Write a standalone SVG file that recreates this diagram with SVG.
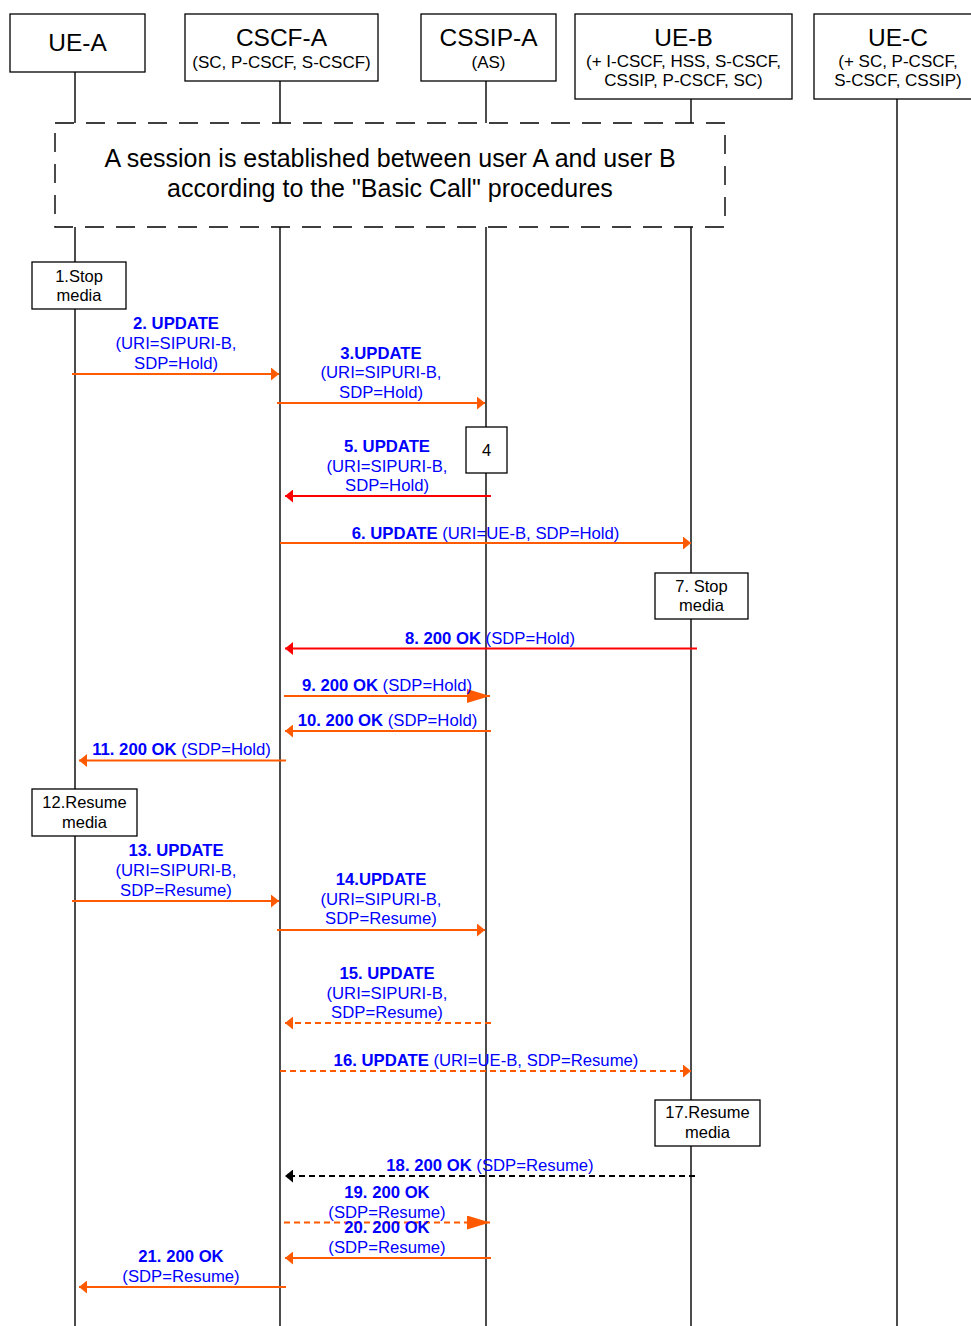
<svg xmlns="http://www.w3.org/2000/svg" width="971" height="1326" viewBox="0 0 971 1326">
<style>
.hdr{font-family:"Liberation Sans",Arial,sans-serif;font-size:24.5px;fill:#000;text-anchor:middle}
.ses{font-family:"Liberation Sans",Arial,sans-serif;font-size:25px;fill:#000;text-anchor:middle}
.sub{font-family:"Liberation Sans",Arial,sans-serif;font-size:17px;fill:#000;text-anchor:middle}
.box{fill:#fff;stroke:#000;stroke-width:1.3}
.life{stroke:#000;stroke-width:1.4;fill:none}
.lbl{font-family:"Liberation Sans",Arial,sans-serif;font-size:16.7px;fill:#0000FF;text-anchor:middle}
.b{font-weight:bold}
.note{font-family:"Liberation Sans",Arial,sans-serif;font-size:16.5px;fill:#000;text-anchor:middle}
.or{stroke:#FF5A00;stroke-width:2;fill:none}
.rd{stroke:#FF0000;stroke-width:2;fill:none}
.bk{stroke:#000;stroke-width:2;fill:none}
.dash{stroke-dasharray:6,4}
</style>
<defs>
<marker id="ao" viewBox="0 0 8 13" refX="8" refY="6.5" markerWidth="8" markerHeight="13" markerUnits="userSpaceOnUse" orient="auto"><polygon points="0,0 8,6.5 0,13" fill="#FF5A00"/></marker>
<marker id="ar" viewBox="0 0 8 13" refX="8" refY="6.5" markerWidth="8" markerHeight="13" markerUnits="userSpaceOnUse" orient="auto"><polygon points="0,0 8,6.5 0,13" fill="#FF0000"/></marker>
<marker id="ak" viewBox="0 0 8 13" refX="8" refY="6.5" markerWidth="8" markerHeight="13" markerUnits="userSpaceOnUse" orient="auto"><polygon points="0,0 8,6.5 0,13" fill="#000"/></marker>
<marker id="aob" viewBox="0 0 23 14" refX="23" refY="7" markerWidth="23" markerHeight="14" markerUnits="userSpaceOnUse" orient="auto"><polygon points="0,0 23,7 0,14" fill="#FF5A00"/></marker>
</defs>
<rect width="971" height="1326" fill="#fff"/>

<g id="lifelines">
<line class="life" x1="75" y1="72" x2="75" y2="1326"/>
<line class="life" x1="280" y1="81" x2="280" y2="1326"/>
<line class="life" x1="486" y1="81" x2="486" y2="1326"/>
<line class="life" x1="691" y1="99" x2="691" y2="1326"/>
<line class="life" x1="897" y1="99" x2="897" y2="1326"/>
</g>

<g id="ue-a"><rect class="box" x="10" y="14" width="135" height="58"/><text class="hdr" x="77.5" y="51">UE-A</text></g>
<g id="cscf-a"><rect class="box" x="185" y="14" width="193" height="67"/><text class="hdr" x="281.5" y="46">CSCF-A</text><text class="sub" x="281.5" y="68">(SC, P-CSCF, S-CSCF)</text></g>
<g id="cssip-a"><rect class="box" x="421" y="14" width="135" height="67"/><text class="hdr" x="488.5" y="46">CSSIP-A</text><text class="sub" x="488.5" y="68">(AS)</text></g>
<g id="ue-b"><rect class="box" x="575" y="14" width="217" height="85"/><text class="hdr" x="683.5" y="46">UE-B</text><text class="sub" x="683.5" y="67">(+ I-CSCF, HSS, S-CSCF,</text><text class="sub" x="683.5" y="86">CSSIP, P-CSCF, SC)</text></g>
<g id="ue-c"><rect class="box" x="814" y="14" width="165" height="85"/><text class="hdr" x="898" y="46">UE-C</text><text class="sub" x="898" y="67">(+ SC, P-CSCF,</text><text class="sub" x="898" y="86">S-CSCF, CSSIP)</text></g>

<g id="session">
<rect x="55" y="123" width="670" height="104" fill="#fff" stroke="#000" stroke-width="1.4" stroke-dasharray="19,12"/>
<text class="ses" x="390" y="167">A session is established between user A and user B</text>
<text class="ses" x="390" y="197">according to the "Basic Call" procedures</text>
</g>

<g id="n1"><rect class="box" x="32" y="262" width="94" height="47"/><text class="note" x="79" y="282">1.Stop</text><text class="note" x="79" y="301">media</text></g>
<g id="n4"><rect class="box" x="466" y="427" width="41" height="46"/><text class="note" x="486.5" y="456">4</text></g>
<g id="n7"><rect class="box" x="655" y="573" width="93" height="46"/><text class="note" x="701.5" y="592">7. Stop</text><text class="note" x="701.5" y="611">media</text></g>
<g id="n12"><rect class="box" x="32" y="789" width="105" height="47"/><text class="note" x="84.5" y="808">12.Resume</text><text class="note" x="84.5" y="828">media</text></g>
<g id="n17"><rect class="box" x="655" y="1100" width="105" height="46"/><text class="note" x="707.5" y="1118">17.Resume</text><text class="note" x="707.5" y="1138">media</text></g>

<g id="connectors">
<line class="or" x1="72" y1="374" x2="279" y2="374" marker-end="url(#ao)"/>
<line class="or" x1="277" y1="403" x2="485" y2="403" marker-end="url(#ao)"/>
<line class="rd" x1="491" y1="496" x2="285" y2="496" marker-end="url(#ar)"/>
<line class="or" x1="280" y1="543" x2="691" y2="543" marker-end="url(#ao)"/>
<line class="rd" x1="697" y1="648.5" x2="285" y2="648.5" marker-end="url(#ar)"/>
<line class="or" x1="284" y1="696" x2="490" y2="696" marker-end="url(#aob)"/>
<line class="or" x1="491" y1="731" x2="285" y2="731" marker-end="url(#ao)"/>
<line class="or" x1="286" y1="760.5" x2="79" y2="760.5" marker-end="url(#ao)"/>
<line class="or" x1="72" y1="901" x2="279" y2="901" marker-end="url(#ao)"/>
<line class="or" x1="277" y1="930" x2="485" y2="930" marker-end="url(#ao)"/>
<line class="or dash" x1="491" y1="1023" x2="285" y2="1023" marker-end="url(#ao)"/>
<line class="or dash" x1="280" y1="1071" x2="691" y2="1071" marker-end="url(#ao)"/>
<line class="bk dash" x1="695" y1="1176" x2="285" y2="1176" marker-end="url(#ak)"/>
<line class="or dash" x1="284" y1="1222.5" x2="490" y2="1222.5" marker-end="url(#aob)"/>
<line class="or" x1="491" y1="1258" x2="285" y2="1258" marker-end="url(#ao)"/>
<line class="or" x1="286" y1="1287" x2="79" y2="1287" marker-end="url(#ao)"/>
</g>

<g id="labels">
<text class="lbl b" x="176" y="329">2. UPDATE</text>
<text class="lbl" x="176" y="349">(URI=SIPURI-B,</text>
<text class="lbl" x="176" y="369">SDP=Hold)</text>

<text class="lbl b" x="381" y="359">3.UPDATE</text>
<text class="lbl" x="381" y="378">(URI=SIPURI-B,</text>
<text class="lbl" x="381" y="398">SDP=Hold)</text>

<text class="lbl b" x="387" y="452">5. UPDATE</text>
<text class="lbl" x="387" y="472">(URI=SIPURI-B,</text>
<text class="lbl" x="387" y="491">SDP=Hold)</text>

<text class="lbl" x="485.5" y="539"><tspan class="b">6. UPDATE</tspan> (URI=UE-B, SDP=Hold)</text>
<text class="lbl" x="490" y="644"><tspan class="b">8. 200 OK</tspan> (SDP=Hold)</text>
<text class="lbl" x="387" y="691"><tspan class="b">9. 200 OK</tspan> (SDP=Hold)</text>
<text class="lbl" x="387.5" y="726"><tspan class="b">10. 200 OK</tspan> (SDP=Hold)</text>
<text class="lbl" x="181.5" y="755"><tspan class="b">11. 200 OK</tspan> (SDP=Hold)</text>

<text class="lbl b" x="176" y="856">13. UPDATE</text>
<text class="lbl" x="176" y="876">(URI=SIPURI-B,</text>
<text class="lbl" x="176" y="896">SDP=Resume)</text>

<text class="lbl b" x="381" y="885">14.UPDATE</text>
<text class="lbl" x="381" y="905">(URI=SIPURI-B,</text>
<text class="lbl" x="381" y="924">SDP=Resume)</text>

<text class="lbl b" x="387" y="979">15. UPDATE</text>
<text class="lbl" x="387" y="999">(URI=SIPURI-B,</text>
<text class="lbl" x="387" y="1018">SDP=Resume)</text>

<text class="lbl" x="486" y="1066"><tspan class="b">16. UPDATE</tspan> (URI=UE-B, SDP=Resume)</text>
<text class="lbl" x="490" y="1171"><tspan class="b">18. 200 OK</tspan> (SDP=Resume)</text>

<text class="lbl b" x="387" y="1198">19. 200 OK</text>
<text class="lbl" x="387" y="1218">(SDP=Resume)</text>
<text class="lbl b" x="387" y="1233">20. 200 OK</text>
<text class="lbl" x="387" y="1253">(SDP=Resume)</text>

<text class="lbl b" x="181" y="1262">21. 200 OK</text>
<text class="lbl" x="181" y="1282">(SDP=Resume)</text>
</g>
</svg>
